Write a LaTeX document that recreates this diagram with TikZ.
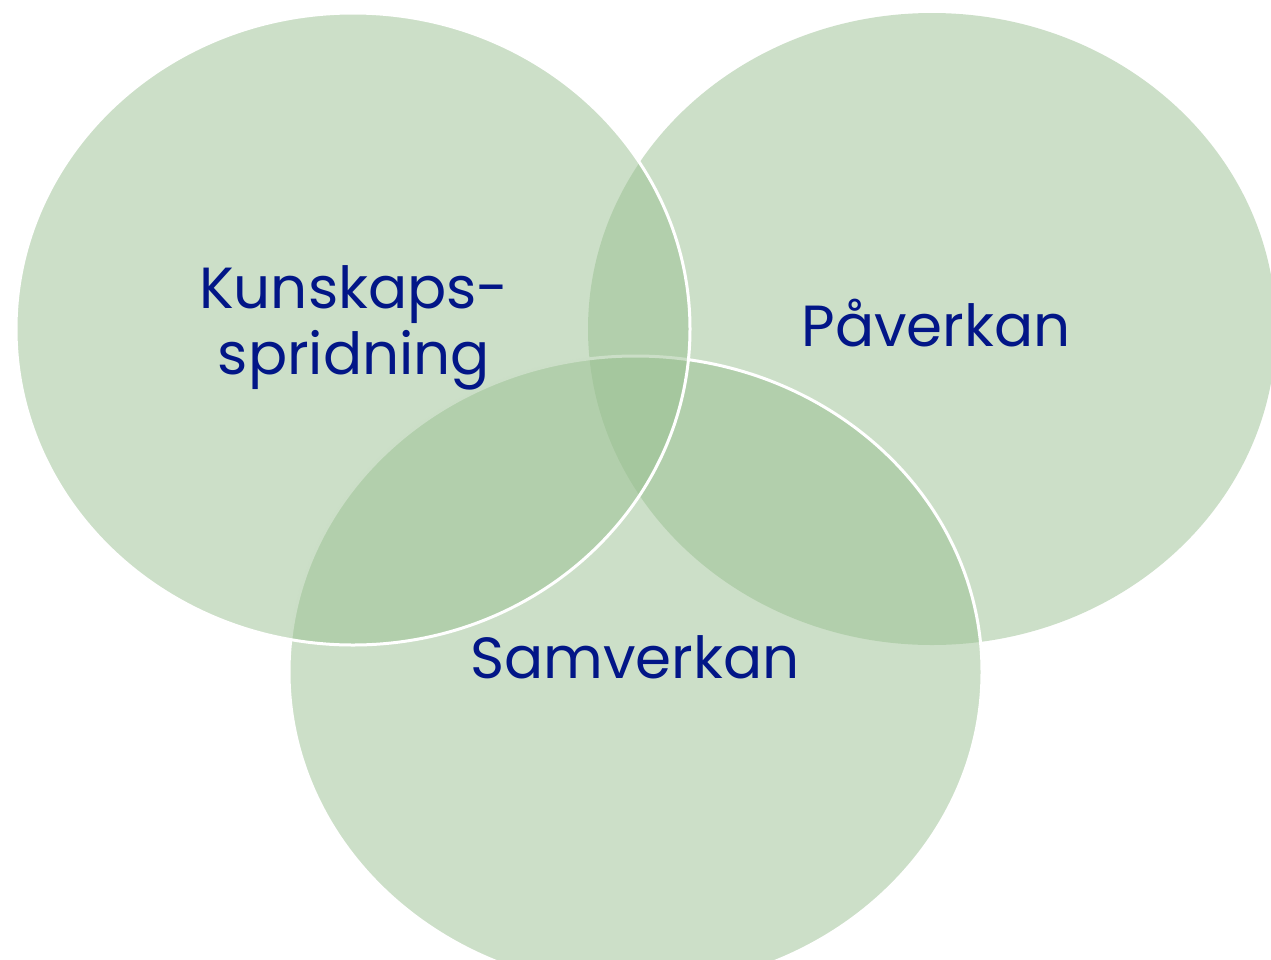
\documentclass[tikz,border=0pt]{standalone}
\usepackage{fontspec}
\setmainfont{Poppins}
\definecolor{vennfill}{RGB}{153,191,145}
\definecolor{vtext}{RGB}{2,22,135}
\begin{document}
\begin{tikzpicture}[x=1pt,y=-1pt,
  venn/.style={fill=vennfill,fill opacity=0.5},
  vennline/.style={draw=white,line width=3pt},
  lbl/.style={text=vtext,font=\fontsize{58}{61}\selectfont,anchor=base,inner sep=0pt}]
\useasboundingbox (0,0) rectangle (1271,959);
\clip (0,0) rectangle (1271,959);
% right ellipse
\path[venn] (932,329) ellipse [x radius=344, y radius=316];
% bottom ellipse
\path[venn] (635.5,672) ellipse [x radius=346.5, y radius=316];
\draw[vennline] (635.5,672) ellipse [x radius=346.5, y radius=316];
% left ellipse
\path[venn] (353,329) ellipse [x radius=337, y radius=316];
\draw[vennline] (353,329) ellipse [x radius=337, y radius=316];
% labels
\node[lbl] (k1) at (354,308) {Kunskaps-};
\node[lbl] (k2) at (354,374) {spridning};
\node[lbl] (p) at (936,346) {Påverkan};
\node[lbl] (s) at (635,678) {Samverkan};
\end{tikzpicture}
\end{document}
